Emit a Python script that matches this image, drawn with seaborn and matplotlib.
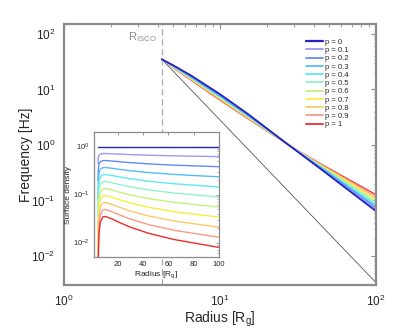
import matplotlib
matplotlib.use("Agg")
import numpy as np
import pandas as pd
import matplotlib.pyplot as plt
import seaborn as sns

# Data
p_labels = ['p = 0', 'p = 0.1', 'p = 0.2', 'p = 0.3', 'p = 0.4', 'p = 0.5',
            'p = 0.6', 'p = 0.7', 'p = 0.8', 'p = 0.9', 'p = 1']
colors = ['#2424c0', '#9a9af5', '#5f8af7', '#55bdf7', '#5ee8f2', '#92f2cb',
          '#c2f27c', '#f6f040', '#fbc86a', '#fb9a86', '#f22a2a']

r_isco = 4.23

# precession frequency vs outer radius (main panel)
radius_main = [4.23, 5, 6.5, 10, 15, 27, 45, 100]
freq_p00 = [35, 27.3, 17.9, 8.20, 3.66, 1.04, 0.355, 0.064]
freq_p01 = [35, 27.05, 17.56, 8.00, 3.59, 1.039, 0.363, 0.0685]
freq_p02 = [35, 26.8, 17.23, 7.81, 3.52, 1.038, 0.371, 0.0734]
freq_p03 = [35, 26.55, 16.90, 7.62, 3.45, 1.037, 0.379, 0.0786]
freq_p04 = [35, 26.3, 16.58, 7.43, 3.38, 1.036, 0.388, 0.0842]
freq_p05 = [35, 26.05, 16.27, 7.25, 3.31, 1.035, 0.397, 0.0902]
freq_p06 = [35, 25.8, 15.96, 7.08, 3.25, 1.034, 0.405, 0.0966]
freq_p07 = [35, 25.55, 15.66, 6.90, 3.18, 1.033, 0.414, 0.1034]
freq_p08 = [35, 25.3, 15.36, 6.74, 3.12, 1.032, 0.424, 0.1108]
freq_p09 = [35, 25.05, 15.07, 6.57, 3.06, 1.031, 0.433, 0.1186]
freq_p10 = [35, 24.8, 14.78, 6.41, 3.00, 1.030, 0.443, 0.127]

# Lense-Thirring line
lt_radius = [4.23, 10, 100]
lt_freq = [35, 2.81, 0.0033]

# surface density profiles (inset)
radius_inset = [4.24, 4.4, 5, 6, 8, 10, 15, 20, 30, 45, 65, 100]
sigma_p00 = [1, 1, 1, 1, 1, 1, 1, 1, 1, 1, 1, 1]
sigma_p01 = [0.441, 0.582, 0.661, 0.696, 0.713, 0.715, 0.707, 0.697, 0.679, 0.659, 0.640, 0.617]
sigma_p02 = [0.195, 0.338, 0.438, 0.484, 0.509, 0.511, 0.500, 0.486, 0.461, 0.434, 0.409, 0.380]
sigma_p03 = [0.0858, 0.197, 0.289, 0.337, 0.363, 0.366, 0.354, 0.338, 0.313, 0.286, 0.262, 0.234]
sigma_p04 = [0.0378, 0.1145, 0.1915, 0.2349, 0.2588, 0.2615, 0.2500, 0.2359, 0.2126, 0.1884, 0.1674, 0.1445]
sigma_p05 = [0.0167, 0.0666, 0.1267, 0.1635, 0.1847, 0.1870, 0.1768, 0.1643, 0.1443, 0.1241, 0.1071, 0.0891]
sigma_p06 = [0.00736, 0.0387, 0.0838, 0.1138, 0.1317, 0.1337, 0.1250, 0.1145, 0.0979, 0.0818, 0.0685, 0.0550]
sigma_p07 = [0.00324, 0.0225, 0.0554, 0.0792, 0.0940, 0.0956, 0.0884, 0.0798, 0.0665, 0.0539, 0.0438, 0.0339]
sigma_p08 = [0.00143, 0.0131, 0.0367, 0.0552, 0.0670, 0.0684, 0.0625, 0.0556, 0.0452, 0.0355, 0.0280, 0.0209]
sigma_p09 = [0.00063, 0.00762, 0.0243, 0.0384, 0.0478, 0.0489, 0.0442, 0.0388, 0.0307, 0.0234, 0.0179, 0.0129]
sigma_p10 = [0.000278, 0.00443, 0.0160, 0.0267, 0.0341, 0.0350, 0.0313, 0.0270, 0.0208, 0.0154, 0.0115, 0.00794]

freq_series = [freq_p00, freq_p01, freq_p02, freq_p03, freq_p04, freq_p05,
               freq_p06, freq_p07, freq_p08, freq_p09, freq_p10]
sigma_series = [sigma_p00, sigma_p01, sigma_p02, sigma_p03, sigma_p04, sigma_p05,
                sigma_p06, sigma_p07, sigma_p08, sigma_p09, sigma_p10]

# Style
sns.set_style("white")
plt.rcParams['font.family'] = ['Liberation Sans', 'DejaVu Sans']
plt.rcParams['mathtext.default'] = 'regular'
frame_gray = '#8a8a8a'

fig = plt.figure(figsize=(4.15, 3.34), dpi=100)
ax = fig.add_axes([0.1542, 0.1467, 0.752, 0.781])

# Main panel
ax.axvline(r_isco, color='#aaaaaa', lw=0.9, ls=(0, (5, 3)), zorder=1)
sns.lineplot(x=lt_radius, y=lt_freq, color='#555555', lw=0.6, ax=ax)
# draw from p = 1 down to p = 0 so the blue edge stays on top
for i in reversed(range(len(p_labels))):
    sns.lineplot(x=radius_main, y=freq_series[i], color=colors[i],
                 lw=1.3 if i == 0 else 0.9, label=p_labels[i], ax=ax)

ax.set_xscale('log')
ax.set_yscale('log')
ax.set_xlim(1, 100)
ax.set_ylim(0.003, 150)
ax.set_xlabel(r'Radius [$R_g$]', fontsize=10, labelpad=1)
ax.set_ylabel('Frequency [Hz]', fontsize=10, labelpad=-1)
ax.tick_params(which='both', direction='in', top=True, right=True,
               color=frame_gray, labelsize=8.5)
ax.tick_params(which='major', length=3.5, width=0.8, pad=6)
ax.tick_params(which='minor', length=1.8, width=0.6)
for s in ax.spines.values():
    s.set_color(frame_gray)
    s.set_linewidth(1.6)

ax.text(3.95, 88, r'$R_{ISCO}$', ha='right', va='center', fontsize=8,
        color='#8c8c8c')

# legend in p order
handles, labels = ax.get_legend_handles_labels()
order = [labels.index(l) for l in p_labels]
leg = ax.legend([handles[k] for k in order], [labels[k] for k in order],
                loc='upper left', bbox_to_anchor=(0.738, 0.885),
                bbox_transform=fig.transFigure, frameon=False, fontsize=5.5,
                handlelength=2.2, handletextpad=0.3, labelspacing=0.12,
                borderaxespad=0, borderpad=0)
for line in leg.get_lines():
    line.set_linewidth(1.3)
leg.get_lines()[0].set_linewidth(1.6)

# Inset
ax_in = fig.add_axes([0.2265, 0.2305, 0.301, 0.374])
ax_in.set_facecolor('white')
for i in range(len(p_labels)):
    sns.lineplot(x=radius_inset, y=sigma_series[i], color=colors[i], lw=1.0,
                 legend=False, ax=ax_in)
ax_in.set_yscale('log')
ax_in.set_xlim(1, 100)
ax_in.set_ylim(0.005, 2)
ax_in.set_xticks([20, 40, 60, 80, 100])
ax_in.set_xlabel(r'Radius [$R_g$]', fontsize=6, labelpad=1)
ax_in.set_ylabel('Surface density', fontsize=6, labelpad=1)
ax_in.tick_params(which='both', direction='in', top=True, right=True,
                  color=frame_gray, labelsize=5.5)
ax_in.tick_params(which='major', length=2.5, width=0.6, pad=3)
ax_in.tick_params(which='minor', length=1.3, width=0.5)
for s in ax_in.spines.values():
    s.set_color(frame_gray)
    s.set_linewidth(0.9)

fig.savefig('out.png', dpi=100)
